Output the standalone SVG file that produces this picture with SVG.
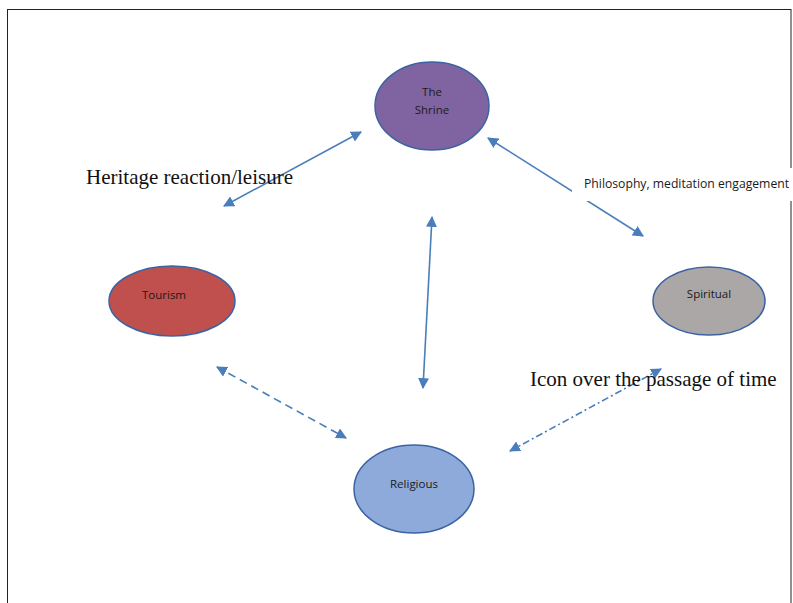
<svg xmlns="http://www.w3.org/2000/svg" width="793" height="603" viewBox="0 0 793 603">
<style>
.node{stroke:#3b63a3;stroke-width:1.5}
.lbl{font-family:"Open Sans","Liberation Sans",Arial,sans-serif;font-size:11.5px;fill:#1a1a1a;text-anchor:middle}
.serif{font-family:"Liberation Serif","Times New Roman",serif;font-size:21px;fill:#111}
.conn{stroke:#4a7ebb;stroke-width:1.6;fill:none;marker-start:url(#ah);marker-end:url(#ah)}
</style>
<defs>
<marker id="ah" viewBox="0 0 10 10" refX="9" refY="5" markerWidth="11" markerHeight="11" markerUnits="userSpaceOnUse" orient="auto-start-reverse">
<path d="M0,0 L10,5 L0,10 z" fill="#4a7ebb"/>
</marker>
</defs>
<rect x="0" y="0" width="793" height="603" fill="#fff"/>
<rect x="7.5" y="9.5" width="783.5" height="600" fill="none" stroke="#222" stroke-width="1"/>
<g id="connectors">
<line class="conn" x1="361" y1="132" x2="224" y2="206"/>
<line class="conn" x1="488" y1="138" x2="643" y2="236"/>
<line class="conn" x1="432" y1="217" x2="423" y2="388"/>
<line class="conn" x1="217" y1="367" x2="346" y2="438" stroke-dasharray="8,5"/>
<line class="conn" x1="661" y1="369" x2="510" y2="451" stroke-dasharray="7,3,2,3"/>
</g>
<g id="shrine">
<ellipse class="node" cx="432" cy="106" rx="57" ry="44" fill="#8064a2"/>
<text class="lbl" x="432" y="96">The</text>
<text class="lbl" x="432" y="114">Shrine</text>
</g>
<g id="tourism">
<ellipse class="node" cx="172" cy="301" rx="63" ry="35" fill="#c0504d"/>
<text class="lbl" x="164" y="299">Tourism</text>
</g>
<g id="spiritual">
<ellipse class="node" cx="709" cy="301" rx="56" ry="34" fill="#aba7a6"/>
<text class="lbl" x="709" y="298">Spiritual</text>
</g>
<g id="religious">
<ellipse class="node" cx="414" cy="489" rx="60" ry="44" fill="#8eaadb"/>
<text class="lbl" x="414" y="488">Religious</text>
</g>
<g id="labels">
<text class="serif" x="86" y="184">Heritage reaction/leisure</text>
<rect x="572" y="168" width="221" height="33" fill="#fff"/>
<text class="lbl" x="584" y="188" style="text-anchor:start;font-size:12.2px">Philosophy, meditation engagement</text>
<text class="serif" x="530" y="386">Icon over the passage of time</text>
</g>
</svg>
